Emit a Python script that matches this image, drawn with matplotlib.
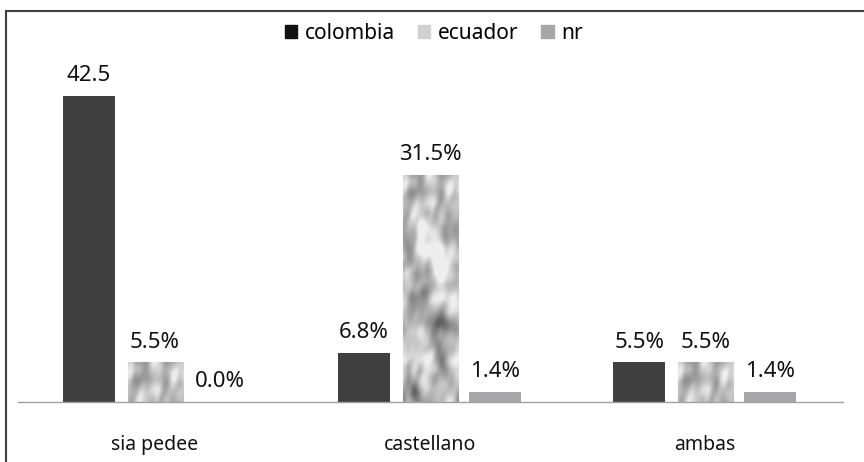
import numpy as np
import matplotlib.pyplot as plt
from matplotlib.patches import Patch
from matplotlib.lines import Line2D

# --- data ---
categories = ["sia pedee", "castellano", "ambas"]
series = ["colombia", "ecuador", "nr"]
colombia = [42.5, 6.8, 5.5]
ecuador = [5.5, 31.5, 5.5]
nr = [0.0, 1.4, 1.4]
labels_colombia = ["42.5", "6.8%", "5.5%"]
labels_ecuador = ["5.5%", "31.5%", "5.5%"]
labels_nr = ["0.0%", "1.4%", "1.4%"]

plt.rcParams['font.family'] = ['Noto Sans', 'DejaVu Sans']

fig = plt.figure(figsize=(8.64, 4.62), dpi=100)
ax = fig.add_axes((0.0203, 0.13, 0.955, 0.779))

# crumpled paper texture for the ecuador bars (style only)
def make_texture(h, w, seed=11):
    rng = np.random.default_rng(seed)
    fy = np.fft.fftfreq(h)[:, None]
    fx = np.fft.fftfreq(w)[None, :]
    hf = np.zeros((h, w))
    for sig, amp in [(0.010, 1.0), (0.022, 0.45)]:
        noise = rng.standard_normal((h, w))
        # slightly diagonal, elongated creases
        u = fx * 0.8 + fy * 0.6
        v = -fx * 0.6 + fy * 0.8
        filt = np.exp(-(u ** 2 / (2 * (sig * 1.8) ** 2) + v ** 2 / (2 * sig ** 2)))
        layer = np.real(np.fft.ifft2(np.fft.fft2(noise) * filt))
        hf += amp * layer / layer.std()
    gy, gx = np.gradient(hf)
    shade = 0.74 + 1.6 * (gx * 0.7 - gy * 0.7) + 0.05 * hf
    return np.clip(shade, 0.38, 0.93)

tex = make_texture(400, 80)

x = np.arange(len(categories))
w_side = 0.19
w_mid = 0.2
ax.bar(x - 0.24, colombia, w_side, color="#404040", zorder=2)
ax.bar(x + 0.235, nr, w_side, color="#a6a6a8", zorder=2)
bars_e = ax.bar(x, ecuador, w_mid, color="#b4b4b4", edgecolor="#d8d8d8", lw=0.8, zorder=2)
for b in bars_e:
    x0 = b.get_x()
    hgt = b.get_height()
    rows = max(int(hgt * 7.2), 2)
    ax.imshow(tex[:rows, :], extent=(x0, x0 + w_mid, 0, hgt), aspect='auto',
              cmap='gray', vmin=0, vmax=1, zorder=2.5, interpolation='bilinear')

for vals, labs, dx in [(colombia, labels_colombia, -0.24), (ecuador, labels_ecuador, 0),
                       (nr, labels_nr, 0.235)]:
    for i, (v, t) in enumerate(zip(vals, labs)):
        ax.annotate(t, (i + dx, v), xytext=(0, 7), textcoords='offset points',
                    ha='center', va='bottom', fontsize=16, color="#111111")

ax.set_xlim(-0.5, 2.5)
ax.set_ylim(0, 50)
ax.set_xticks(x)
ax.set_xticklabels(categories, fontsize=14, color="#111111")
ax.tick_params(axis='x', length=0, pad=24)
ax.set_yticks([])
for s in ["top", "right", "left"]:
    ax.spines[s].set_visible(False)
ax.spines["bottom"].set_color("#a0a0a0")
ax.spines["bottom"].set_linewidth(1)

handles = [Patch(color="#111111"), Patch(color="#d0d0d0"), Patch(color="#a6a6a8")]
fig.legend(handles, series, loc='center', bbox_to_anchor=(0.502, 0.927), ncol=3,
           frameon=False, fontsize=15, handlelength=0.6, handleheight=0.6,
           handletextpad=0.35, columnspacing=1.1)

# outer frame (left and top edges visible)
fx0 = 6 / 864
fy1 = 1 - 11 / 462
fig.add_artist(Line2D([fx0, fx0], [0, fy1], color="#404040", lw=1.5))
fig.add_artist(Line2D([fx0, 1], [fy1, fy1], color="#404040", lw=1.5))

fig.savefig("out.png", dpi=100)
